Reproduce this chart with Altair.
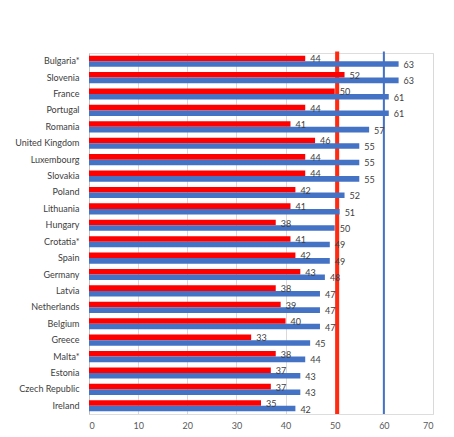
import altair as alt
import pandas as pd

countries = ["Bulgaria*", "Slovenia", "France", "Portugal", "Romania", "United Kingdom",
             "Luxembourg", "Slovakia", "Poland", "Lithuania", "Hungary", "Crotatia*",
             "Spain", "Germany", "Latvia", "Netherlands", "Belgium", "Greece", "Malta*",
             "Estonia", "Czech Republic", "Ireland"]
series1 = [44, 52, 50, 44, 41, 46, 44, 44, 42, 41, 38, 41, 42, 43, 38, 39, 40, 33, 38, 37, 37, 35]
series2 = [63, 63, 61, 61, 57, 55, 55, 55, 52, 51, 50, 49, 49, 48, 47, 47, 47, 45, 44, 43, 43, 42]
series_names = ["Series1", "Series2"]
series_colors = ["#ff0000", "#4472c4"]
ref_values = [50.5, 60]
ref_colors = ["#ff2a10", "#4472c4"]
x_ticks = [0, 10, 20, 30, 40, 50, 60, 70]

rows = []
for c, a, b in zip(countries, series1, series2):
    rows.append({"country": c, "series": series_names[0], "value": a})
    rows.append({"country": c, "series": series_names[1], "value": b})
df = pd.DataFrame(rows)

FONT = "Lato"
W, H = 344, 361

y_enc = alt.Y("country:N", sort=countries, title=None,
              scale=alt.Scale(paddingInner=0.32, paddingOuter=0.16),
              axis=alt.Axis(labelFont=FONT, labelFontSize=9, labelColor="#404040",
                            labelPadding=10, ticks=False, domain=True,
                            domainColor="#bfbfbf", grid=False))
yoff = alt.YOffset("series:N", sort=series_names, scale=alt.Scale(paddingInner=0, paddingOuter=0))

x_enc = alt.X("value:Q", title=None,
              scale=alt.Scale(domain=[0, 70], nice=False),
              axis=alt.Axis(values=x_ticks, labelFont=FONT, labelFontSize=9,
                            labelColor="#595959", ticks=False, domain=False,
                            grid=True, gridColor="#d9d9d9", labelPadding=7))

base = alt.Chart(df)

bars = base.mark_bar().encode(
    x=x_enc,
    y=y_enc,
    yOffset=yoff,
    color=alt.Color("series:N", scale=alt.Scale(domain=series_names, range=series_colors), legend=None),
)

labels = base.mark_text(align="left", baseline="middle", dx=5, dy=1,
                        font=FONT, fontSize=9, color="#404040").encode(
    x="value:Q",
    y=alt.Y("country:N", sort=countries),
    yOffset=yoff,
    text="value:Q",
)

ref_df = pd.DataFrame({"ref": ref_values, "kind": ["a", "b"]})
rules = alt.Chart(ref_df).mark_rule().encode(
    x="ref:Q",
    y=alt.value(-1.5),
    y2=alt.value(H),
    color=alt.Color("kind:N", scale=alt.Scale(domain=["a", "b"], range=ref_colors), legend=None),
    strokeWidth=alt.StrokeWidth("kind:N", scale=alt.Scale(domain=["a", "b"], range=[4, 2]), legend=None),
)

chart = alt.layer(rules, bars, labels).resolve_scale(color="independent").properties(
    width=W, height=H,
    autosize=alt.AutoSizeParams(type="none"),
    padding={"left": 81, "top": 45, "right": 13, "bottom": 15},
).configure_view(stroke=None).configure(background="white")

chart.save("out.html", embed_options={"renderer": "svg", "actions": False})
